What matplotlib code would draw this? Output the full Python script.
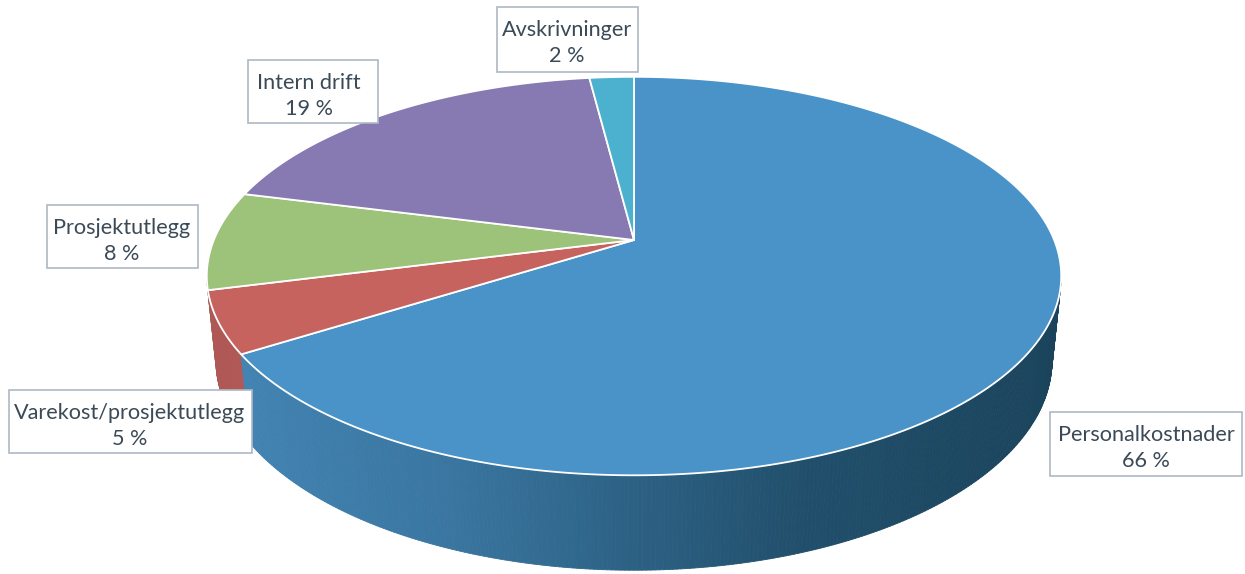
import numpy as np
import matplotlib
matplotlib.use("Agg")
import matplotlib.pyplot as plt
from matplotlib.patches import Polygon, Rectangle
from matplotlib.collections import PolyCollection

# ---- data (clockwise from 12 o'clock) ----
labels = ["Personalkostnader", "Varekost/prosjektutlegg", "Prosjektutlegg",
          "Intern drift", "Avskrivninger"]
values = [66, 5, 8, 19, 2]
pct_labels = ["66 %", "5 %", "8 %", "19 %", "2 %"]
top_colors = ["#4A93C8", "#C6635F", "#9DC27A", "#8779B1", "#4CB1CF"]

# ---- layout (pixel space) ----
W, H = 1245, 574
label_boxes = [(1050, 412, 1242, 476), (9, 390, 252, 453), (47, 205, 198, 268),
               (248, 60, 378, 123), (497, 7, 638, 72)]
label_cx = [1146, 130, 122, 309, 567]

# camera
CX, CY = 634, 240
F = 2063.0
DIST = 4.91
ALPHA = np.radians(27.3)
THICK = 0.227
ca, sa = np.cos(ALPHA), np.sin(ALPHA)


def project(th, z, r=1.0):
    th = np.asarray(th, dtype=float)
    u = r * np.sin(np.radians(th))
    v = r * np.cos(np.radians(th))
    depth = DIST + v * ca - z * sa
    x = CX + F * u / depth
    y = CY - F * (v * sa + z * ca) / depth
    return x, y


def shade(hexcol, x):
    xs = [245, 450, 634, 800, 1060]
    fr = [0.89, 0.78, 0.60, 0.45, 0.36]
    fgb = [0.89, 0.80, 0.66, 0.54, 0.46]
    c = np.array(matplotlib.colors.to_rgb(hexcol))
    f = np.array([np.interp(x, xs, fr), np.interp(x, xs, fgb), np.interp(x, xs, fgb)])
    return tuple(np.clip(c * f, 0, 1))


fig = plt.figure(figsize=(W / 100, H / 100), dpi=100)
ax = fig.add_axes([0, 0, 1, 1])
ax.set_xlim(0, W)
ax.set_ylim(H, 0)
ax.axis("off")

total = float(sum(values))
bounds = np.concatenate([[0], np.cumsum(values)]) / total * 360.0

# ---- side walls ----
quads, qcols, qdepth = [], [], []
vis_lim = -1.0 / (DIST * ca)
for i in range(len(values)):
    t0, t1 = bounds[i], bounds[i + 1]
    n = max(2, int((t1 - t0) / 0.5))
    ts = np.linspace(t0, t1, n + 1)
    for a, b in zip(ts[:-1], ts[1:]):
        m = 0.5 * (a + b)
        vm = np.cos(np.radians(m))
        if vm > vis_lim + 0.02:
            continue
        xa, ya = project(a, 0)
        xb, yb = project(b, 0)
        xa2, ya2 = project(a, -THICK)
        xb2, yb2 = project(b, -THICK)
        quads.append([(xa, ya), (xb, yb), (xb2, yb2), (xa2, ya2)])
        qcols.append(shade(top_colors[i], 0.5 * (xa + xb)))
        qdepth.append(vm)
order = np.argsort(qdepth)[::-1]
pc = PolyCollection([quads[k] for k in order],
                    facecolors=[qcols[k] for k in order],
                    edgecolors=[qcols[k] for k in order],
                    linewidths=0.6, zorder=1)
ax.add_collection(pc)

# ---- top faces ----
for i in range(len(values)):
    t0, t1 = bounds[i], bounds[i + 1]
    ts = np.linspace(t0, t1, max(3, int((t1 - t0) / 0.5)) + 1)
    xs, ys = project(ts, 0)
    ax0, ay0 = project(0.0, 0, r=0.0)
    pts = [(float(ax0), float(ay0))] + list(zip(xs, ys))
    ax.add_patch(Polygon(pts, closed=True, facecolor=top_colors[i],
                         edgecolor="white", linewidth=1.3, joinstyle="round",
                         zorder=2))

# ---- labels ----
txt_col = "#3B4A57"
for i in range(len(values)):
    x0, y0, x1, y1 = label_boxes[i]
    ax.add_patch(Rectangle((x0, y0), x1 - x0, y1 - y0, facecolor="white",
                           edgecolor="#AEB9C3", linewidth=1.2, zorder=5))
    ax.text(label_cx[i], y0 + 29, labels[i], ha="center", va="baseline",
            fontsize=15.6, family="Lato", color=txt_col, zorder=6)
    ax.text(label_cx[i], y0 + 55, pct_labels[i], ha="center", va="baseline",
            fontsize=15.6, family="Lato", color=txt_col, zorder=6)

fig.savefig("out.png", dpi=100, facecolor="white")
